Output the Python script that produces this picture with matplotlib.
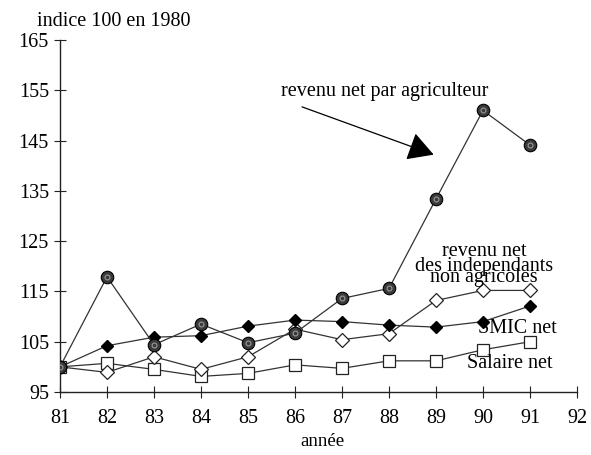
import matplotlib
matplotlib.use("Agg")
import matplotlib.pyplot as plt

years = [81, 82, 83, 84, 85, 86, 87, 88, 89, 90, 91]
agriculteur = [100, 117.9, 104.4, 108.5, 104.8, 106.7, 113.6, 115.6, 133.4, 151.0, 144.1]
smic = [100, 104.2, 105.9, 106.2, 108.1, 109.3, 109.0, 108.3, 107.9, 109.0, 112.1]
independants = [100, 98.9, 102.0, 99.5, 102.0, 107.5, 105.4, 106.6, 113.2, 115.2, 115.2]
salaire = [100, 100.7, 99.5, 98.1, 98.7, 100.4, 99.7, 101.2, 101.2, 103.4, 105.0]
xticks = list(range(81, 93))
yticks = [95, 105, 115, 125, 135, 145, 155, 165]

plt.rcParams['font.family'] = ['Liberation Serif', 'DejaVu Serif']

fig = plt.figure(figsize=(5.91, 4.55), dpi=100)
W, H = 591, 455
ax = fig.add_axes([60 / W, (H - 392) / H, (577 - 60) / W, (392 - 40) / H])

lc = '#333333'
lw = 0.9
ax.plot(years, salaire, color=lc, lw=lw, marker='s', ms=9, mfc='white', mec='#222222', mew=0.9, zorder=2)
ax.plot(years, independants, color=lc, lw=lw, marker='D', ms=7.5, mfc='white', mec='#222222', mew=0.9, zorder=3)
ax.plot(years, smic, color=lc, lw=lw, marker='D', ms=6, mfc='black', mec='black', zorder=4)
ax.plot(years, agriculteur, color=lc, lw=lw, marker='o', ms=9, mfc='#3a3a3a', mec='black', mew=0.8, zorder=5)
# dotted texture on the agriculteur markers
ax.plot(years, agriculteur, ls='none', marker='o', ms=3.5, mfc='none', mec='#9a9a9a', mew=0.8, zorder=6)

ax.set_xlim(81, 92)
ax.set_ylim(95, 165)
ax.set_xticks(xticks)
ax.set_yticks(yticks)
fs = 14.5
ax.set_xticklabels([str(t) for t in xticks], fontsize=fs)
ax.set_yticklabels([str(t) for t in yticks], fontsize=fs)
ax.tick_params(direction='inout', length=8, width=0.8, color='#222222')
ax.tick_params(axis='x', pad=8)
ax.tick_params(axis='y', pad=4)
for s in ['top', 'right']:
    ax.spines[s].set_visible(False)
for s in ['left', 'bottom']:
    ax.spines[s].set_linewidth(1.0)
    ax.spines[s].set_color('#222222')

fig.text(37 / W, 1 - 22 / H, 'indice 100 en 1980', fontsize=fs, va='center', ha='left')
fig.text(300 / W, 1 - 441 / H, 'année', fontsize=13.5, va='center', ha='left')

ax.annotate('', xy=(88.95, 142.2), xytext=(86.15, 151.7),
            arrowprops=dict(arrowstyle='-|>,head_length=1.6,head_width=0.9', color='black', lw=0.9,
                            shrinkA=0, shrinkB=0))
ax.text(87.9, 154.7, 'revenu net par agriculteur', fontsize=fs, ha='center', va='center')

ax.text(90.02, 122.9, 'revenu net', fontsize=fs, ha='center', va='center')
ax.text(90.02, 119.9, 'des independants', fontsize=fs, ha='center', va='center')
ax.text(90.02, 117.7, 'non agricoles', fontsize=fs, ha='center', va='center')
ax.text(89.9, 107.7, 'SMIC net', fontsize=fs, ha='left', va='center')
ax.text(89.66, 100.6, 'Salaire net', fontsize=fs, ha='left', va='center')

fig.savefig('out.png', dpi=100)
